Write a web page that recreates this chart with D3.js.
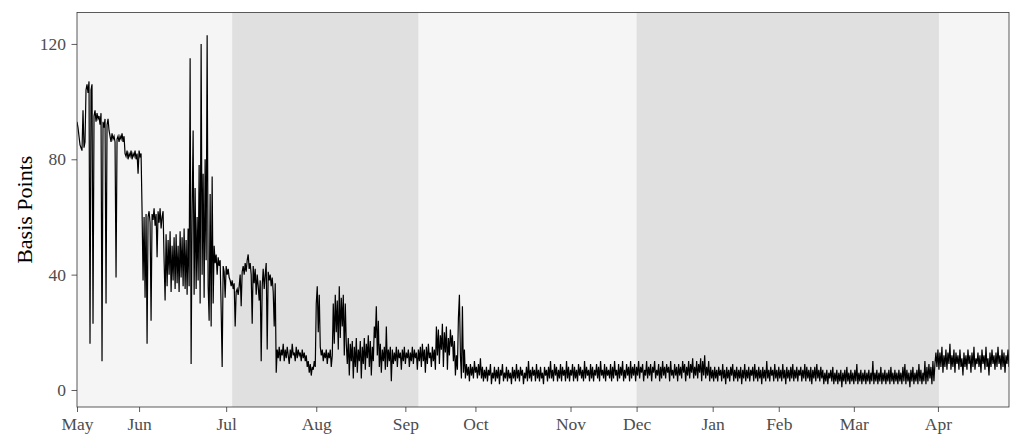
<!DOCTYPE html>
<html><head><meta charset="utf-8">
<script src="https://cdn.jsdelivr.net/npm/d3@7"></script>
<style>body{margin:0;background:#fff} svg{display:block}</style>
</head><body><svg id="c" width="1013" height="434"></svg>
<script>
// Month labels and the observation index at which each month starts
const monthLabels = ["May","Jun","Jul","Aug","Sep","Oct","Nov","Dec","Jan","Feb","Mar","Apr"];
const monthTickObs = [0,62,149,239,328,398,493,559,635,701,776,860];
// Shaded periods (observation index start/end)
const shadedPeriods = [[155,341],[559,861]];
const yTicks = [0,40,80,120];
// Series (basis points), one value per observation
const basisPoints = [
93,91,88,85,84,83,97,84,86,104,
106,103,107,16,104,106,23,95,97,93,
96,94,95,92,96,10,93,91,94,30,
92,94,90,88,86,89,87,88,86,39,
87,88,86,88,87,89,86,88,82,81,
83,80,82,81,83,80,82,81,83,80,
82,75,83,81,82,62,38,60,32,61,
16,60,62,58,24,61,59,63,57,61,
46,62,58,63,56,60,62,45,31,54,
36,52,40,55,34,50,38,53,35,54,
37,50,34,55,39,53,36,56,35,52,
33,56,36,115,9,62,90,33,70,35,
60,38,78,30,120,40,75,32,80,45,
123,36,24,68,22,74,30,50,44,47,
40,46,43,45,28,8,43,41,32,43,
40,42,39,38,36,38,35,37,22,34,
35,33,36,40,29,41,43,40,44,41,
45,47,42,44,40,23,43,37,42,33,
40,36,31,38,10,36,42,35,40,44,
14,41,38,40,36,39,34,22,37,6,
14,11,15,10,14,12,16,10,14,11,
15,12,9,14,11,16,12,13,10,15,
11,14,12,13,10,14,11,13,10,12,
8,10,6,9,5,8,7,10,8,30,
36,20,33,15,12,14,10,13,11,14,
9,13,11,14,8,12,30,16,33,20,
31,14,36,18,32,22,33,12,30,16,
9,18,5,16,10,17,4,15,8,18,
6,14,10,17,4,15,9,18,7,16,
11,19,8,17,5,15,10,22,18,29,
12,24,8,16,6,14,10,15,7,22,
8,14,10,15,3,14,9,13,10,15,
8,14,11,13,7,14,10,15,9,13,
11,14,8,13,10,15,9,14,11,13,
7,14,10,15,8,16,10,14,6,15,
9,16,11,13,8,15,10,14,7,22,
12,21,9,19,14,23,8,20,13,22,
7,18,12,21,15,19,10,17,5,12,
7,25,33,12,4,29,6,14,4,9,
5,8,3,9,5,8,4,10,6,8,
4,9,5,11,4,8,3,7,4,8,
3,7,5,9,2,6,4,8,3,7,
4,8,2,7,5,9,3,6,4,8,
3,7,4,6,2,8,4,7,3,9,
4,7,3,8,5,7,2,6,4,8,
3,10,4,7,3,8,5,7,3,9,
4,7,3,8,4,6,2,8,5,7,
3,8,4,10,4,7,3,9,5,8,
3,7,4,9,3,8,5,7,3,10,
4,8,3,7,5,9,3,8,4,7,
3,9,5,8,4,7,3,10,4,8,
5,7,3,9,4,8,3,7,5,9,
4,8,3,10,5,7,4,9,3,8,
5,7,4,9,3,8,4,10,5,7,
3,9,4,8,5,10,3,7,4,9,
5,8,3,10,4,8,5,9,3,8,
5,10,4,8,6,9,3,7,5,10,
4,8,5,9,3,8,6,10,4,7,
5,9,3,8,4,10,5,8,4,9,
6,8,3,10,5,7,4,9,5,8,
3,9,5,8,4,10,6,9,3,8,
5,10,4,9,6,11,4,8,5,10,
4,9,6,11,3,10,5,12,4,8,
5,10,3,8,4,7,3,8,4,7,
3,8,5,7,3,9,4,7,2,8,
4,7,3,8,5,9,3,7,4,8,
3,7,4,8,2,7,4,9,3,7,
4,8,3,7,5,8,3,9,4,7,
3,8,4,7,2,8,4,7,3,10,
4,7,3,8,5,7,3,9,4,7,
3,8,4,7,3,9,4,7,2,8,
4,7,3,8,4,9,3,7,4,8,
3,7,5,8,3,7,4,9,3,8,
4,7,3,8,2,7,4,8,3,9,
4,7,3,8,4,7,2,6,3,7,
2,6,4,7,3,8,2,6,3,7,
2,6,3,7,1,6,3,7,2,8,
3,6,2,7,3,6,2,7,3,9,
2,6,3,7,2,6,3,7,2,6,
3,7,2,6,3,10,2,6,3,7,
2,6,3,8,2,6,3,7,2,6,
3,7,2,8,3,6,2,7,3,6,
2,7,3,6,2,8,3,9,2,7,
3,6,1,7,3,8,2,6,3,7,
2,9,3,7,2,6,3,10,2,8,
3,9,4,8,2,10,3,9,13,8,
14,7,13,8,15,6,12,8,14,7,
13,9,16,7,12,8,14,6,13,9,
12,7,14,8,11,5,13,8,12,7,
14,9,12,6,13,8,15,7,11,9,
13,8,12,6,14,9,12,7,15,8,
11,5,13,8,14,9,12,7,13,8,
15,9,12,7,14,8,13,6,12,9,
14,8
];

const m = {left: 77, right: 1009, top: 12.5, bottom: 407};
const svg = d3.select("#c");
const font = "'Liberation Serif','Times New Roman',serif";

const x = d3.scaleLinear().domain([0, basisPoints.length - 1]).range([m.left, m.right]);
const y = d3.scaleLinear().domain([-5.9, 130.9]).range([m.bottom, m.top]);

// panel background
svg.append("rect").attr("x", m.left).attr("y", m.top)
  .attr("width", m.right - m.left).attr("height", m.bottom - m.top)
  .attr("fill", "#f5f5f5");

// shaded periods
svg.append("g").selectAll("rect").data(shadedPeriods).join("rect")
  .attr("x", d => x(d[0])).attr("y", m.top)
  .attr("width", d => x(d[1]) - x(d[0])).attr("height", m.bottom - m.top)
  .attr("fill", "#e0e0e0");

svg.append("clipPath").attr("id", "clip").append("rect")
  .attr("x", m.left).attr("y", m.top)
  .attr("width", m.right - m.left).attr("height", m.bottom - m.top);

const line = d3.line().x((d, i) => x(i)).y(d => y(d));
svg.append("path").datum(basisPoints)
  .attr("clip-path", "url(#clip)")
  .attr("d", line).attr("fill", "none")
  .attr("stroke", "#000").attr("stroke-width", 1.2)
  .attr("stroke-linejoin", "miter");

// panel border
svg.append("rect").attr("x", m.left).attr("y", m.top)
  .attr("width", m.right - m.left).attr("height", m.bottom - m.top)
  .attr("fill", "none").attr("stroke", "#333").attr("stroke-width", 0.8);

// axes
const xAxis = d3.axisBottom(x).tickValues(monthTickObs)
  .tickFormat((d, i) => monthLabels[i]).tickSize(5).tickPadding(5.5);
const gx = svg.append("g").attr("transform", `translate(0,${m.bottom})`).call(xAxis);
gx.select(".domain").remove();
gx.selectAll("line").attr("stroke", "#333").attr("stroke-width", 0.8);
gx.selectAll("text").attr("fill", "#4d4d4d").style("font-family", font).style("font-size", "17.5px");

const yAxis = d3.axisLeft(y).tickValues(yTicks).tickSize(5.5).tickPadding(5.5);
const gy = svg.append("g").attr("transform", `translate(${m.left},0)`).call(yAxis);
gy.select(".domain").remove();
gy.selectAll("line").attr("stroke", "#333").attr("stroke-width", 0.8);
gy.selectAll("text").attr("fill", "#4d4d4d").style("font-family", font).style("font-size", "17.5px");

svg.append("text")
  .attr("transform", `translate(32,${(m.top + m.bottom) / 2}) rotate(-90)`)
  .attr("text-anchor", "middle")
  .style("font-family", font).style("font-size", "22px").attr("fill", "#000")
  .text("Basis Points");
</script>
</body></html>
